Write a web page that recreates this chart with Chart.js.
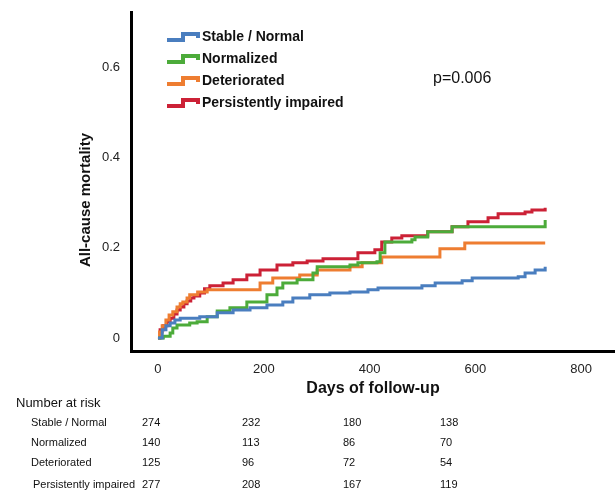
<!DOCTYPE html>
<html>
<head>
<meta charset="utf-8">
<script src="https://cdn.jsdelivr.net/npm/chart.js@4"></script>
<style>
  html, body { margin: 0; padding: 0; background: #fff; }
  canvas { display: block; }
</style>
</head>
<body>
<canvas id="km" width="615" height="493"></canvas>
<script>
// curvas de mortalidad (dias, riesgo acumulado)
const stableDays = [0, 8, 15, 23, 32, 42, 79, 112, 142, 174, 206, 236, 255, 287, 325, 363, 397, 416, 499, 524, 575, 594, 681, 694, 713, 732];
const stableRisk = [0, 0.018, 0.027, 0.033, 0.040, 0.044, 0.047, 0.056, 0.062, 0.067, 0.073, 0.080, 0.089, 0.096, 0.100, 0.102, 0.107, 0.111, 0.116, 0.122, 0.127, 0.133, 0.136, 0.144, 0.151, 0.158];

const normDays = [0, 10, 23, 28, 36, 60, 74, 93, 112, 136, 168, 206, 225, 236, 263, 293, 301, 363, 378, 414, 420, 429, 480, 486, 510, 556, 732];
const normRisk = [0, 0.004, 0.011, 0.022, 0.029, 0.033, 0.036, 0.047, 0.060, 0.067, 0.080, 0.096, 0.111, 0.122, 0.129, 0.144, 0.158, 0.162, 0.167, 0.169, 0.189, 0.213, 0.218, 0.224, 0.236, 0.247, 0.262];

const detDays = [0, 3, 8, 15, 21, 28, 36, 42, 47, 55, 60, 75, 93, 193, 217, 268, 301, 363, 386, 423, 533, 580, 732];
const detRisk = [0, 0.013, 0.027, 0.040, 0.051, 0.058, 0.069, 0.076, 0.080, 0.089, 0.096, 0.102, 0.107, 0.122, 0.133, 0.140, 0.151, 0.158, 0.167, 0.180, 0.198, 0.211, 0.211];

const persDays = [0, 4, 10, 17, 23, 30, 36, 42, 49, 55, 62, 68, 79, 88, 98, 123, 142, 168, 193, 225, 255, 282, 312, 378, 410, 423, 442, 461, 510, 556, 586, 624, 643, 694, 707, 732];
const persRisk = [0, 0.018, 0.027, 0.036, 0.044, 0.053, 0.062, 0.069, 0.076, 0.082, 0.089, 0.093, 0.100, 0.109, 0.116, 0.122, 0.129, 0.140, 0.151, 0.162, 0.167, 0.171, 0.176, 0.189, 0.196, 0.213, 0.222, 0.227, 0.236, 0.247, 0.258, 0.267, 0.276, 0.280, 0.284, 0.289];

const groupNames = ['Stable / Normal', 'Normalized', 'Deteriorated', 'Persistently impaired'];
const xTicks = [0, 200, 400, 600, 800];
const yTicks = [0, 0.2, 0.4, 0.6];

// pacientes en riesgo
const riskTitle = 'Number at risk';
const riskStable = [274, 232, 180, 138];
const riskNorm = [140, 113, 86, 70];
const riskDet = [125, 96, 72, 54];
const riskPers = [277, 208, 167, 119];
const pValue = 'p=0.006';

const colores = ['#4a7ebf', '#4cab3a', '#ee7d31', '#cc2136'];

function puntos(dias, riesgo) {
  return dias.map((d, i) => ({ x: d, y: riesgo[i] }));
}

// plugin para la leyenda con iconos escalonados, el valor p, el titulo Y y la tabla
const extras = {
  id: 'extras',
  afterDraw(chart) {
    const ctx = chart.ctx;
    ctx.save();

    // leyenda
    const filasY = [37, 59, 81, 103];
    chart.data.datasets.forEach((ds, i) => {
      const y = filasY[i];
      ctx.strokeStyle = ds.borderColor;
      ctx.lineWidth = 4;
      ctx.lineJoin = 'miter';
      ctx.beginPath();
      ctx.moveTo(167, y + 3);
      ctx.lineTo(183, y + 3);
      ctx.lineTo(183, y - 3);
      ctx.lineTo(198, y - 3);
      ctx.lineTo(198, y + 1);
      ctx.stroke();
      ctx.fillStyle = '#111';
      ctx.font = 'bold 14px "Liberation Sans", Arial, sans-serif';
      ctx.textAlign = 'left';
      ctx.textBaseline = 'middle';
      ctx.fillText(ds.label, 202, y);
    });

    // valor p
    ctx.font = '16px "Liberation Sans", Arial, sans-serif';
    ctx.fillStyle = '#111';
    ctx.fillText(pValue, 433, 79);

    // titulo del eje Y
    ctx.save();
    ctx.translate(86, 200);
    ctx.rotate(-Math.PI / 2);
    ctx.textAlign = 'center';
    ctx.font = 'bold 15px "Liberation Sans", Arial, sans-serif';
    ctx.fillText('All-cause mortality', 0, 0);
    ctx.restore();

    // tabla de numero en riesgo
    ctx.textAlign = 'left';
    ctx.font = '13px "Liberation Sans", Arial, sans-serif';
    ctx.fillText(riskTitle, 16, 403);
    const filas = [riskStable, riskNorm, riskDet, riskPers];
    const tablaY = [423, 443, 463, 485];
    const etiquetaX = [31, 31, 31, 33];
    const colX = [142, 242, 343, 440];
    ctx.font = '11px "Liberation Sans", Arial, sans-serif';
    filas.forEach((fila, i) => {
      ctx.fillText(groupNames[i], etiquetaX[i], tablaY[i]);
      fila.forEach((n, j) => ctx.fillText(String(n), colX[j], tablaY[i]));
    });

    ctx.restore();
  }
};

const ctxKm = document.getElementById('km').getContext('2d');
new Chart(ctxKm, {
  type: 'line',
  data: {
    datasets: [
      { label: groupNames[0], data: puntos(stableDays, stableRisk), borderColor: colores[0] },
      { label: groupNames[1], data: puntos(normDays, normRisk), borderColor: colores[1] },
      { label: groupNames[2], data: puntos(detDays, detRisk), borderColor: colores[2] },
      { label: groupNames[3], data: puntos(persDays, persRisk), borderColor: colores[3] }
    ]
  },
  options: {
    responsive: false,
    animation: false,
    layout: { padding: { left: 76, right: 0, top: 12, bottom: 95 } },
    elements: {
      line: { borderWidth: 3, stepped: 'before', tension: 0, fill: false },
      point: { radius: 0 }
    },
    plugins: {
      legend: { display: false },
      tooltip: { enabled: false }
    },
    scales: {
      x: {
        type: 'linear',
        min: -51,
        max: 864,
        afterBuildTicks: s => { s.ticks = xTicks.map(v => ({ value: v })); },
        afterFit: s => { s.height = 47; s.paddingLeft = 0; s.paddingRight = 0; },
        grid: { display: false },
        border: { display: true, color: '#000', width: 3 },
        ticks: {
          padding: 3,
          color: '#222',
          font: { family: '"Liberation Sans", Arial, sans-serif', size: 13 },
          callback: v => String(v)
        },
        title: {
          display: true,
          text: 'Days of follow-up',
          color: '#111',
          padding: { top: 0, bottom: 0 },
          font: { family: '"Liberation Sans", Arial, sans-serif', size: 16, weight: 'bold' }
        }
      },
      y: {
        type: 'linear',
        min: -0.029,
        max: 0.724,
        afterBuildTicks: s => { s.ticks = yTicks.map(v => ({ value: v })); },
        afterFit: s => { s.width = 55; s.paddingTop = 0; s.paddingBottom = 0; },
        grid: { display: false },
        border: { display: true, color: '#000', width: 3 },
        ticks: {
          padding: 3,
          color: '#222',
          font: { family: '"Liberation Sans", Arial, sans-serif', size: 13 },
          callback: v => String(v)
        }
      }
    }
  },
  plugins: [extras]
});
</script>
</body>
</html>
